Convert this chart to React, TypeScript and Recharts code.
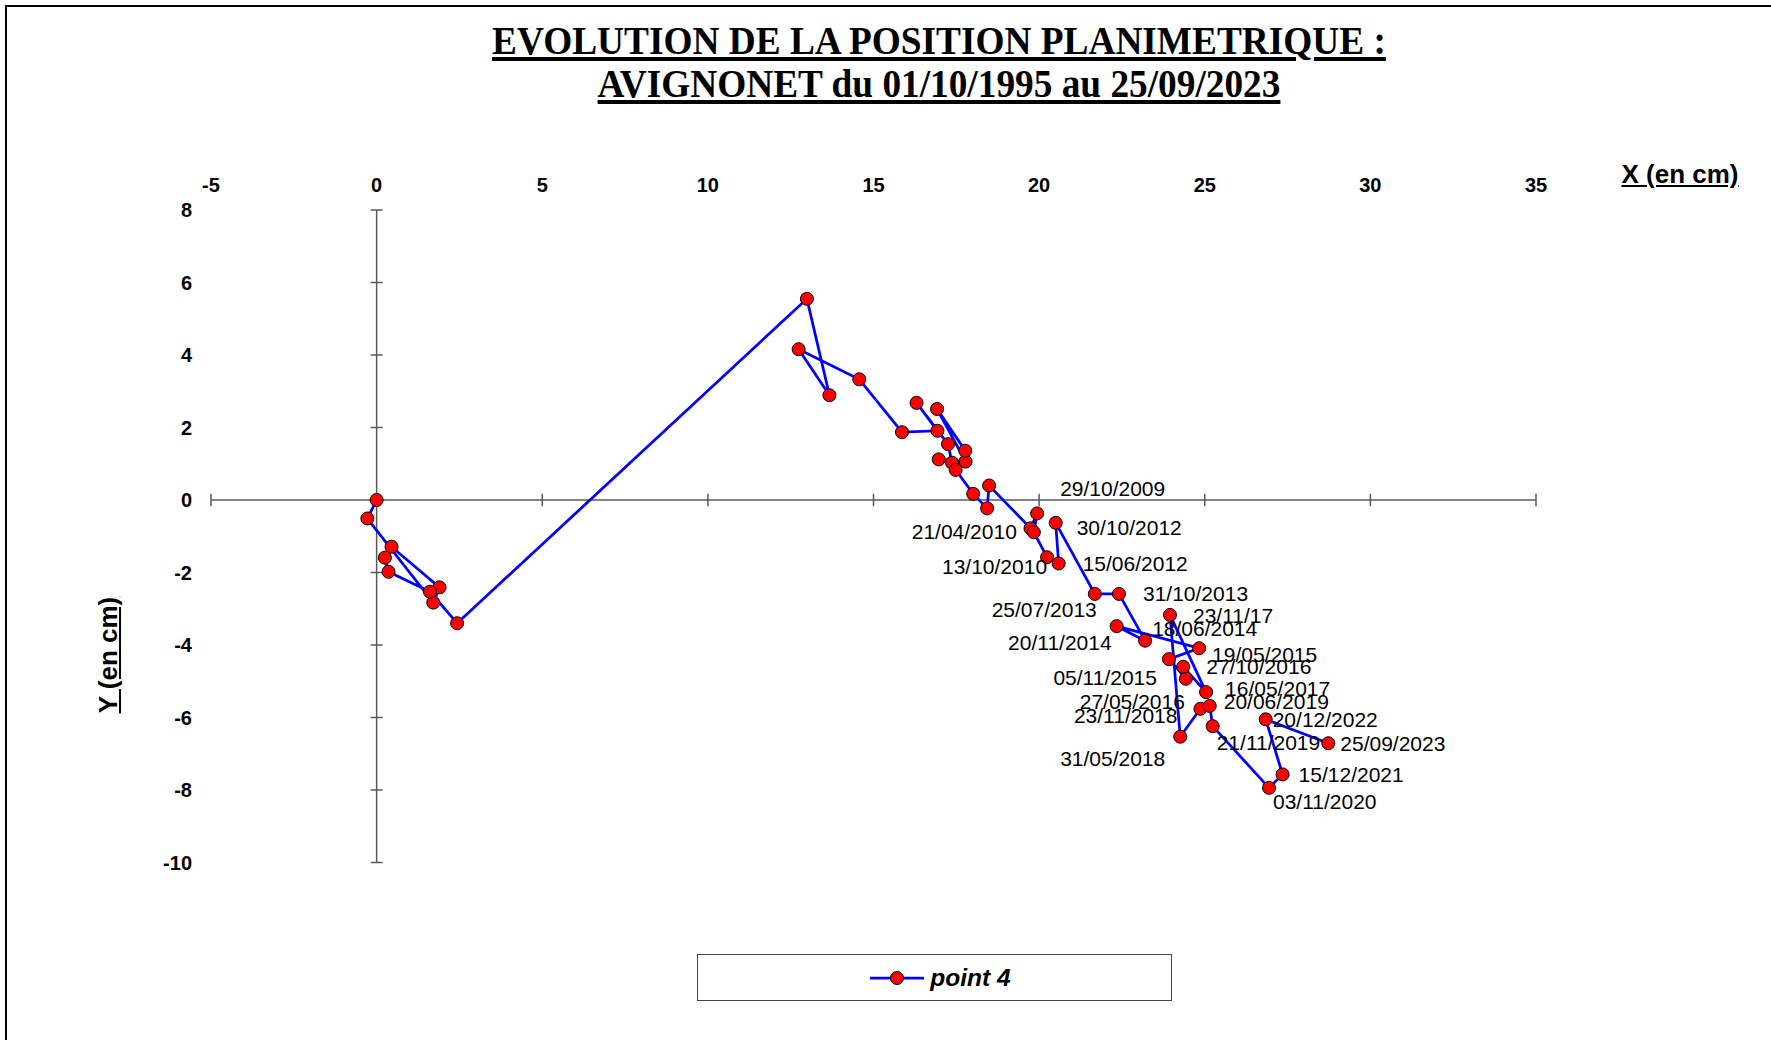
import { LabelList, Line, LineChart, ReferenceLine, XAxis, YAxis } from "recharts"

// point 4 surveys, in survey order (cm)
const xValues = [
  0, -0.28, 1.71, 1.9, 0.45, 0.25, 0.36, 1.61, 2.43,
  12.99, 13.67, 12.74, 14.57,
  15.86, 16.93, 16.3, 17.25, 17.37, 16.97, 17.78, 16.92, 17.77, 17.48,
  18.01, 18.43, 18.49, 19.74, 19.94, 19.84, 20.24, 20.59, 20.5,
  21.68, 22.41, 23.2, 22.34, 24.83, 23.92, 24.43, 24.35, 25.04, 23.95,
  24.26, 24.87, 25.15, 25.24, 26.94, 27.35, 26.84, 28.73,
]
const yValues = [
  0, -0.51, -2.83, -2.41, -1.29, -1.59, -1.98, -2.53, -3.4,
  5.55, 2.89, 4.16, 3.33,
  1.87, 1.91, 2.68, 1.54, 1.03, 1.12, 1.06, 2.51, 1.36, 0.83,
  0.17, -0.23, 0.4, -0.78, -0.37, -0.89, -1.58, -1.75, -0.63,
  -2.59, -2.59, -3.88, -3.48, -4.09, -4.39, -4.93, -4.6, -5.3, -3.17,
  -6.53, -5.76, -5.68, -6.24, -7.94, -7.57, -6.05, -6.71,
]
// only the surveys from 2009 on carry a date label
const dateLabels = [
  "", "", "", "", "", "", "", "", "",
  "", "", "", "",
  "", "", "", "", "", "", "", "", "", "",
  "", "", "", "", "29/10/2009", "21/04/2010", "13/10/2010", "15/06/2012", "30/10/2012",
  "25/07/2013", "31/10/2013", "18/06/2014", "20/11/2014", "19/05/2015", "05/11/2015",
  "27/05/2016", "27/10/2016", "16/05/2017", "23/11/17",
  "31/05/2018", "23/11/2018", "20/06/2019", "21/11/2019", "03/11/2020", "15/12/2021",
  "20/12/2022", "25/09/2023",
]

const xTicks = [-5, 0, 5, 10, 15, 20, 25, 30, 35]
const yTicks = [-10, -8, -6, -4, -2, 0, 2, 4, 6, 8]

const data = xValues.map((x, i) => ({ x, y: yValues[i], date: dateLabels[i] }))

// where each date label was dragged to, relative to its marker: anchor, dx, dy (px)
const labelPlacement: Record<string, [string, number, number]> = {
  "29/10/2009": ["start", 23, -25],
  "21/04/2010": ["end", -17, -1],
  "13/10/2010": ["end", 0, 9],
  "15/06/2012": ["start", 24, 0],
  "30/10/2012": ["start", 21, 5],
  "25/07/2013": ["end", 2, 16],
  "31/10/2013": ["start", 24, 0],
  "18/06/2014": ["start", 7, -12],
  "20/11/2014": ["end", -5, 16],
  "19/05/2015": ["start", 13, 6],
  "05/11/2015": ["end", -12, 18],
  "27/05/2016": ["end", -1, 23],
  "27/10/2016": ["start", 23, 0],
  "16/05/2017": ["start", 19, -4],
  "23/11/17": ["start", 23, 1],
  "31/05/2018": ["end", -15, 22],
  "23/11/2018": ["end", -23, 7],
  "20/06/2019": ["start", 14, -4],
  "21/11/2019": ["start", 4, 16],
  "03/11/2020": ["start", 4, 14],
  "15/12/2021": ["start", 16, 0],
  "20/12/2022": ["start", 7, 0],
  "25/09/2023": ["start", 12, 0],
}

const SANS = "'Liberation Sans', Arial, sans-serif"
const SERIF = "'Liberation Serif', 'Times New Roman', serif"
const AXIS = "#5a5a5a"
const TICK_HALF_Y = 0.17 // cross tick half length, in y units (~6px)
const TICK_HALF_X = 0.18 // same in x units

function DateLabel(props: any) {
  const value = props.value
  if (!value) return null
  const vb = props.viewBox || {}
  const px = vb.x ?? props.x
  const py = vb.y ?? props.y
  const [anchor, dx, dy] = labelPlacement[value] ?? ["start", 12, 0]
  return (
    <text
      x={px + dx}
      y={py + dy}
      textAnchor={anchor as any}
      dominantBaseline="central"
      fontSize={21}
      fontFamily={SANS}
      fill="#000"
    >
      {value}
    </text>
  )
}

const tickStyle = { fill: "#000", fontSize: 20, fontWeight: "bold", fontFamily: SANS }

export default function App() {
  return (
    <div style={{ position: "fixed", left: 0, top: 0, width: 1771, height: 1040, overflow: "hidden", background: "#fff" }}>
      <div style={{ position: "absolute", left: 5, top: 5, width: 1850, height: 1150, border: "2px solid #000" }} />

      <div
        style={{
          position: "absolute", left: 339, width: 1200, top: 17, textAlign: "center",
          fontFamily: SERIF, fontWeight: "bold", fontSize: 41, lineHeight: "46px",
          transform: "scaleX(0.91)", color: "#000",
        }}
      >
        <div style={{ textDecoration: "underline" }}>EVOLUTION DE LA POSITION PLANIMETRIQUE :</div>
        <div style={{ textDecoration: "underline", marginTop: -3 }}>AVIGNONET du 01/10/1995 au 25/09/2023</div>
      </div>

      <div
        style={{
          position: "absolute", left: 1580, width: 200, top: 159, textAlign: "center",
          fontFamily: SANS, fontWeight: "bold", fontSize: 26, lineHeight: "30px", textDecoration: "underline",
        }}
      >
        X (en cm)
      </div>
      <div
        style={{
          position: "absolute", left: 8, width: 200, top: 640, height: 30, textAlign: "center",
          fontFamily: SANS, fontWeight: "bold", fontSize: 26, lineHeight: "30px", textDecoration: "underline",
          transform: "rotate(-90deg)",
        }}
      >
        Y (en cm)
      </div>

      <div style={{ position: "absolute", left: 0, top: 0 }}>
        <LineChart width={1771} height={1040} data={data} margin={{ top: 170, right: 235, bottom: 177.5, left: 151 }}>
          <XAxis
            type="number"
            dataKey="x"
            domain={[-5, 35]}
            ticks={xTicks}
            interval={0}
            orientation="top"
            height={40}
            axisLine={false}
            tickLine={false}
            tickMargin={12}
            tick={tickStyle}
            allowDataOverflow
          />
          <YAxis
            type="number"
            domain={[-10, 8]}
            ticks={yTicks}
            interval={0}
            width={60}
            axisLine={false}
            tickLine={false}
            tickMargin={13}
            tick={tickStyle}
            allowDataOverflow
          />
          <ReferenceLine y={0} stroke={AXIS} strokeWidth={1.5} />
          <ReferenceLine x={0} stroke={AXIS} strokeWidth={1.5} />
          {xTicks.map((t) => (
            <ReferenceLine key={"xt" + t} segment={[{ x: t, y: -TICK_HALF_Y }, { x: t, y: TICK_HALF_Y }]} stroke={AXIS} strokeWidth={1.5} />
          ))}
          {yTicks.map((t) => (
            <ReferenceLine key={"yt" + t} segment={[{ x: -TICK_HALF_X, y: t }, { x: TICK_HALF_X, y: t }]} stroke={AXIS} strokeWidth={1.5} />
          ))}
          <Line
            dataKey="y"
            type="linear"
            stroke="#0000ff"
            strokeWidth={2.75}
            dot={{ r: 6.5, fill: "#ff0000", stroke: "#000", strokeWidth: 1 }}
            isAnimationActive={false}
          >
            <LabelList dataKey="date" content={DateLabel} />
          </Line>
        </LineChart>
      </div>

      <div
        style={{
          position: "absolute", left: 697, top: 954, width: 475, height: 47, boxSizing: "border-box",
          border: "1.5px solid #444", display: "flex", alignItems: "center", justifyContent: "center",
        }}
      >
        <svg width={54} height={16} style={{ marginRight: 6, marginLeft: 12 }}>
          <line x1={0} y1={8} x2={54} y2={8} stroke="#0000ff" strokeWidth={2.75} />
          <circle cx={27} cy={8} r={6.5} fill="#ff0000" stroke="#000" strokeWidth={1} />
        </svg>
        <span style={{ fontFamily: SANS, fontWeight: "bold", fontStyle: "italic", fontSize: 24.5, color: "#000" }}>point 4</span>
      </div>
    </div>
  )
}
